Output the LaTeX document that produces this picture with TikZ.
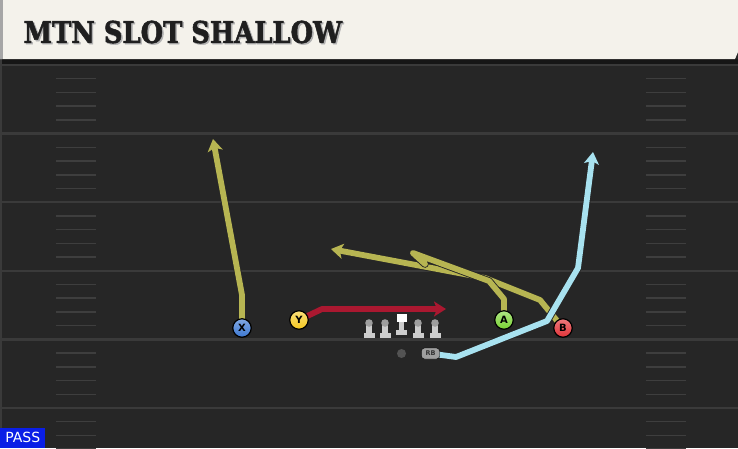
\documentclass[tikz,border=0pt]{standalone}
\usepackage{fontspec}
\setsansfont{DejaVu Sans}
\newfontfamily\titlefont[BoldFeatures={FakeBold=1.8}]{DejaVu Serif}
\usetikzlibrary{arrows.meta, positioning, calc}

\definecolor{fieldgray}{RGB}{38,38,38}
\definecolor{shadowgray}{RGB}{22,22,22}
\definecolor{yardgray}{RGB}{58,58,58}
\definecolor{hashgray}{RGB}{62,62,62}
\definecolor{bannercream}{RGB}{244,242,235}
\definecolor{routeyellow}{RGB}{183,181,82}
\definecolor{routered}{RGB}{170,24,48}
\definecolor{routeblue}{RGB}{168,226,240}
\definecolor{playblue}{RGB}{60,120,210}
\definecolor{playyellow}{RGB}{245,200,30}
\definecolor{playgreen}{RGB}{120,210,50}
\definecolor{playred}{RGB}{225,50,55}
\definecolor{passblue}{RGB}{10,30,230}
\definecolor{linegray}{RGB}{205,205,205}

\begin{document}
\begin{tikzpicture}[x=1pt, y=-1pt,
  player/.style={circle, draw=black, line width=1.2pt, minimum size=18.5pt, inner sep=0pt,
    font=\sffamily\bfseries\fontsize{10}{10}\selectfont, text=black},
  routeedge/.style={line width=7.6pt, line join=round, line cap=round, draw=black!85},
  routeline/.style={line width=5.8pt, line join=round, line cap=round},
  edgetip/.style={-{Stealth[length=14pt, width=17pt, inset=3.5pt]}},
  routetip/.style={-{Stealth[length=12pt, width=15pt, inset=3pt]}}]
  \useasboundingbox (0,0) rectangle (738,448);
  \clip (0,0) rectangle (738,448);

  % Field
  \fill[fieldgray] (0,0) rectangle (738,448);
  \fill[shadowgray] (0,59) rectangle (738,64);
  \fill[yardgray] (0,59) rectangle (2,448);
  \foreach \k in {0,...,5} {
    \draw[yardgray, line width=2.5pt] (0,{65+68.6*\k}) -- (738,{65+68.6*\k});
    \foreach \j in {1,...,4} {
      \draw[hashgray, line width=1.5pt] (56,{65+68.6*\k+13.72*\j}) -- (96,{65+68.6*\k+13.72*\j});
      \draw[hashgray, line width=1.5pt] (646,{65+68.6*\k+13.72*\j}) -- (686,{65+68.6*\k+13.72*\j});
    }
  }

  % Banner
  \fill[bannercream] (0,0) -- (738,0) -- (738,52) -- (735,59) -- (0,59) -- cycle;
  \fill[gray!70] (0,0) rectangle (3,59);
  \node[anchor=west, font=\titlefont\bfseries\fontsize{30}{30}\selectfont, text=gray!60] at (21.5,33.3) {\scalebox{0.86}[1]{MTN SLOT SHALLOW}};
  \node[anchor=west, font=\titlefont\bfseries\fontsize{30}{30}\selectfont, text=black!88] (title) at (20,32) {\scalebox{0.86}[1]{MTN SLOT SHALLOW}};

  % Player spots
  \coordinate (posX) at (242,328);
  \coordinate (posY) at (299,320);
  \coordinate (posA) at (504,320);
  \coordinate (posB) at (563,328);
  \coordinate (posRB) at (430.5,353.5);

  % Route points
  \coordinate (xbreak) at (242,295);
  \coordinate (xend) at (213,139);
  \coordinate (ybreak) at (322,309);
  \coordinate (yend) at (446,309);
  \coordinate (abreak) at (504,299);
  \coordinate (aturn) at (489,281);
  \coordinate (awhip) at (413,253);
  \coordinate (aend) at (425,264);
  \coordinate (bbreak) at (540,300);
  \coordinate (bturn) at (485,278);
  \coordinate (bend) at (331,249);
  \coordinate (rbflat) at (456,357);
  \coordinate (rbbreak) at (547,321);
  \coordinate (rbturn) at (578,268);
  \coordinate (rbend) at (593,152);

  % Routes
  \draw[routeedge, edgetip] (posX) -- (xbreak) -- (xend);
  \draw[routeline, routetip, routeyellow] (posX) -- (xbreak) -- (xend);
  \draw[routeedge, edgetip] (posY) -- (ybreak) -- (yend);
  \draw[routeline, routetip, routered] (posY) -- (ybreak) -- (yend);
  \draw[routeedge, edgetip] (posB) -- (bbreak) -- (bturn) -- (bend);
  \draw[routeline, routetip, routeyellow] (posB) -- (bbreak) -- (bturn) -- (bend);
  \draw[routeedge] (posA) -- (abreak) -- (aturn) -- (awhip) -- (aend);
  \draw[routeline, routeyellow] (posA) -- (abreak) -- (aturn) -- (awhip) -- (aend);
  \draw[routeedge, edgetip] (posRB) -- (rbflat) -- (rbbreak) -- (rbturn) -- (rbend);
  \draw[routeline, routetip, routeblue] (posRB) -- (rbflat) -- (rbbreak) -- (rbturn) -- (rbend);

  % Offensive line
  \foreach \lx in {369,385,418,435} {
    \fill[linegray] (\lx-2.6,323) rectangle (\lx+2.6,334);
    \fill[linegray] (\lx-5.5,332.5) rectangle (\lx+5.5,338);
    \fill[gray!75] (\lx,323) circle (3.8);
  }
  \fill[linegray] (398.8,321) rectangle (404.2,331);
  \fill[linegray] (396,329.5) rectangle (407,335);
  \fill[white] (396.5,313.5) rectangle (406.5,322);

  % Players
  \node[player, top color=playblue!65!white, bottom color=playblue] (X) at (posX) {X};
  \node[player, top color=playyellow!60!white, bottom color=playyellow] (Y) at (posY) {Y};
  \node[player, top color=playgreen!60!white, bottom color=playgreen] (A) at (posA) {A};
  \node[player, top color=playred!65!white, bottom color=playred] (B) at (posB) {B};
  \node[circle, fill=gray!65!black, minimum size=9pt, inner sep=0pt] (QB) at (401.5,353.5) {};
  \node[draw=black, fill=gray!75, rounded corners=3pt, minimum width=18pt, minimum height=11pt,
    inner sep=0pt, font=\sffamily\bfseries\fontsize{6.5}{6.5}\selectfont, text=black!80] (RB) at (posRB) {RB};

  % Play type
  \node[fill=passblue, text=white, font=\sffamily\fontsize{14}{14}\selectfont, anchor=south west,
    minimum width=45pt, minimum height=20pt, inner sep=0pt] (pass) at (0,448) {PASS};
\end{tikzpicture}
\end{document}
